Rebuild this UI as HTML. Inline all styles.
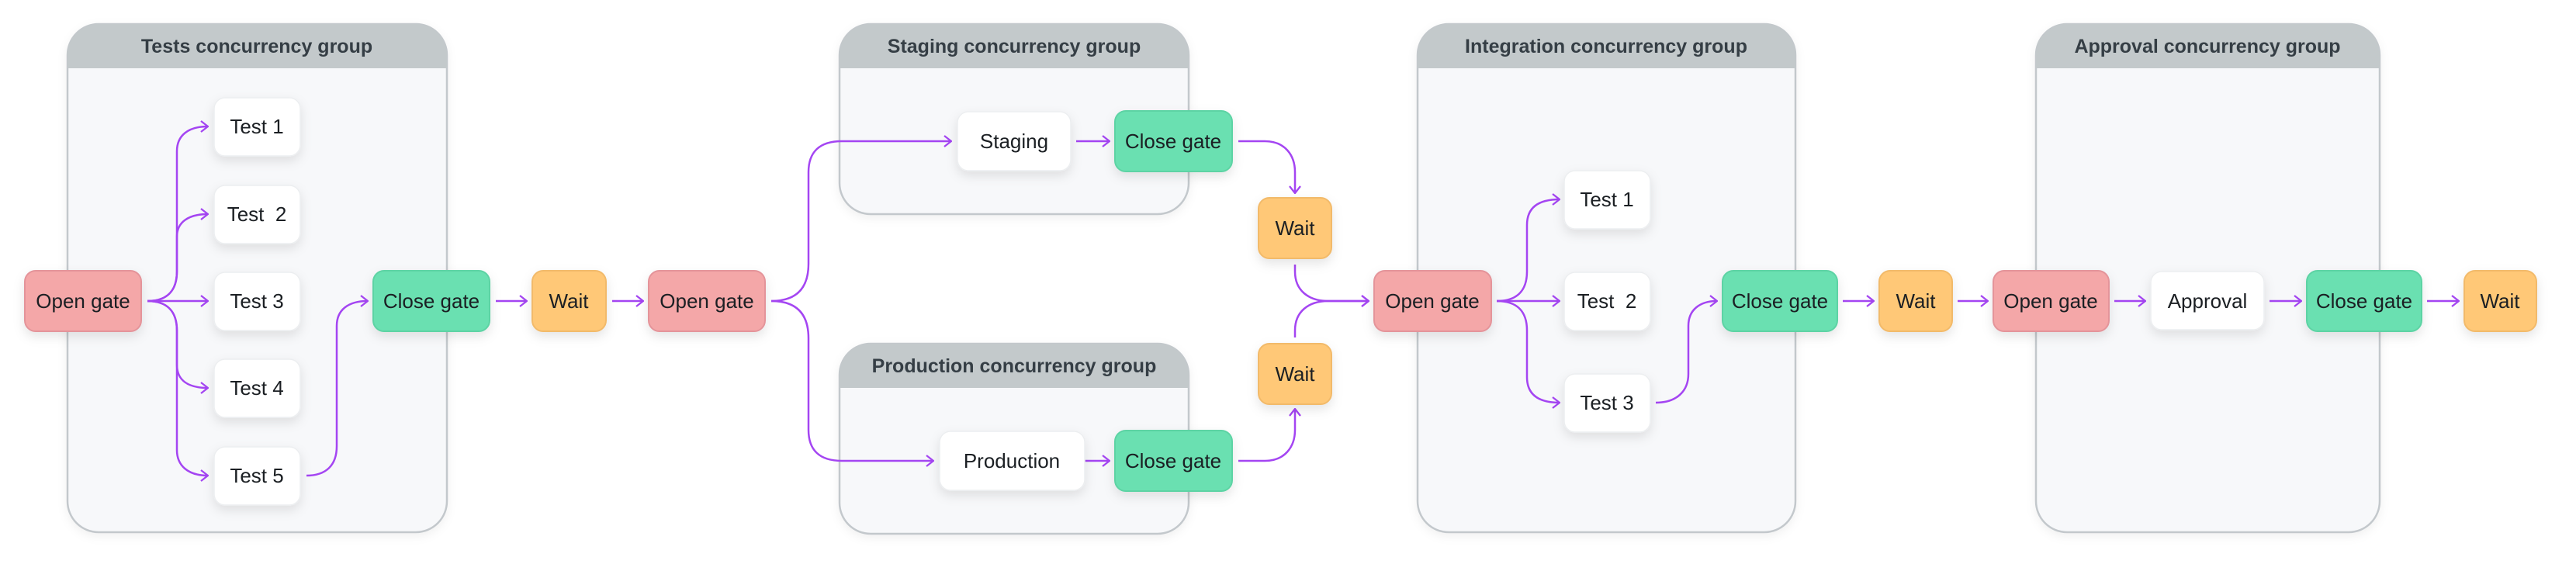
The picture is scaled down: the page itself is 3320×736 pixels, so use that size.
<!DOCTYPE html>
<html><head><meta charset="utf-8"><style>
html,body{margin:0;padding:0;background:#fff;}
svg{display:block;}
text{font-family:"Liberation Sans",sans-serif;}
.n{font-size:26px;fill:#1b1f23;text-anchor:middle;dominant-baseline:central;}
.h{font-size:25px;font-weight:bold;fill:#353e45;text-anchor:middle;dominant-baseline:central;}
.e{fill:none;stroke:#a445f2;stroke-width:2.5;marker-end:url(#ar);}
</style></head><body>
<svg width="3320" height="736" viewBox="0 0 3320 736" xmlns="http://www.w3.org/2000/svg">
<defs>
<marker id="ar" viewBox="0 0 12 16" refX="11" refY="8" markerWidth="12" markerHeight="16" markerUnits="userSpaceOnUse" orient="auto">
<path d="M2 1 L11 8 L2 15" fill="none" stroke="#a445f2" stroke-width="2.3"/>
</marker>
<filter id="sh" x="-30%" y="-30%" width="160%" height="180%"><feDropShadow dx="0" dy="6" stdDeviation="7" flood-color="#000" flood-opacity="0.10"/></filter>
<filter id="gs" x="-10%" y="-10%" width="120%" height="120%"><feDropShadow dx="0" dy="4" stdDeviation="6" flood-color="#000" flood-opacity="0.06"/></filter>
<clipPath id="c1"><rect x="87" y="31" width="489" height="655" rx="40"/></clipPath>
<clipPath id="c2"><rect x="1082" y="31" width="450" height="245" rx="40"/></clipPath>
<clipPath id="c3"><rect x="1082" y="443" width="450" height="245" rx="40"/></clipPath>
<clipPath id="c4"><rect x="1827" y="31" width="487" height="655" rx="40"/></clipPath>
<clipPath id="c5"><rect x="2624" y="31" width="443" height="655" rx="40"/></clipPath>
</defs>

<!-- groups -->
<g filter="url(#gs)">
<rect x="87" y="31" width="489" height="655" rx="40" fill="#f7f8fa" stroke="#c3c8cc" stroke-width="2.5"/>
<rect x="1082" y="31" width="450" height="245" rx="40" fill="#f7f8fa" stroke="#c3c8cc" stroke-width="2.5"/>
<rect x="1082" y="443" width="450" height="245" rx="40" fill="#f7f8fa" stroke="#c3c8cc" stroke-width="2.5"/>
<rect x="1827" y="31" width="487" height="655" rx="40" fill="#f7f8fa" stroke="#c3c8cc" stroke-width="2.5"/>
<rect x="2624" y="31" width="443" height="655" rx="40" fill="#f7f8fa" stroke="#c3c8cc" stroke-width="2.5"/>
</g>
<rect x="87" y="31" width="489" height="57" fill="#c3c9cb" clip-path="url(#c1)"/>
<rect x="1082" y="31" width="450" height="57" fill="#c3c9cb" clip-path="url(#c2)"/>
<rect x="1082" y="443" width="450" height="57" fill="#c3c9cb" clip-path="url(#c3)"/>
<rect x="1827" y="31" width="487" height="57" fill="#c3c9cb" clip-path="url(#c4)"/>
<rect x="2624" y="31" width="443" height="57" fill="#c3c9cb" clip-path="url(#c5)"/>
<text class="h" x="331" y="60">Tests concurrency group</text>
<text class="h" x="1307" y="60">Staging concurrency group</text>
<text class="h" x="1307" y="472">Production concurrency group</text>
<text class="h" x="2070" y="60">Integration concurrency group</text>
<text class="h" x="2845" y="60">Approval concurrency group</text>

<!-- edges -->
<path class="e" d="M190 388 C215 388 228 375 228 350 L228 195 C228 175 242 163 268 163"/>
<path class="e" d="M190 388 C215 388 228 375 228 350 L228 305 C228 287 242 276 268 276"/>
<path class="e" d="M190 388 H268"/>
<path class="e" d="M190 388 C215 388 228 401 228 426 L228 470 C228 490 242 500 268 500"/>
<path class="e" d="M190 388 C215 388 228 401 228 426 L228 580 C228 600 242 613 268 613"/>
<path class="e" d="M395 613 C420 613 434 600 434 575 L434 420 C434 400 448 388 474 388"/>
<path class="e" d="M639 388 H679"/>
<path class="e" d="M789 388 H829"/>
<path class="e" d="M994 388 C1028 388 1042 370 1042 340 L1042 222 C1042 196 1056 182 1085 182 H1226"/>
<path class="e" d="M994 388 C1028 388 1042 406 1042 436 L1042 554 C1042 580 1056 594 1085 594 H1203"/>
<path class="e" d="M1387 182 H1430"/>
<path class="e" d="M1387 594 H1430"/>
<path class="e" d="M1596 182 H1630 C1656 182 1669 200 1669 222 V249"/>
<path class="e" d="M1596 594 H1630 C1656 594 1669 576 1669 554 V527"/>
<path class="e" d="M1669 341 V350 C1669 374 1686 388 1712 388 H1764"/>
<path class="e" d="M1669 435 V426 C1669 402 1686 388 1712 388 H1764"/>
<path class="e" d="M1929 388 C1955 388 1968 375 1968 350 L1968 290 C1968 268 1982 257 2010 257"/>
<path class="e" d="M1929 388 H2010"/>
<path class="e" d="M1929 388 C1955 388 1968 401 1968 426 L1968 486 C1968 508 1982 519 2010 519"/>
<path class="e" d="M2134 519 C2160 519 2176 505 2176 482 L2176 420 C2176 400 2190 388 2213 388"/>
<path class="e" d="M2375 388 H2415"/>
<path class="e" d="M2523 388 H2562"/>
<path class="e" d="M2725 388 H2765"/>
<path class="e" d="M2925 388 H2966"/>
<path class="e" d="M3128 388 H3169"/>

<!-- nodes -->
<g filter="url(#sh)">
<rect x="32" y="349" width="150" height="78" rx="14" fill="#f4a7a8" stroke="#e4949a" stroke-width="2"/>
<rect x="276" y="126" width="111" height="75" rx="14" fill="#fff" stroke="#eceef0" stroke-width="1.5"/>
<rect x="276" y="239" width="111" height="75" rx="14" fill="#fff" stroke="#eceef0" stroke-width="1.5"/>
<rect x="276" y="351" width="111" height="75" rx="14" fill="#fff" stroke="#eceef0" stroke-width="1.5"/>
<rect x="276" y="463" width="111" height="75" rx="14" fill="#fff" stroke="#eceef0" stroke-width="1.5"/>
<rect x="276" y="576" width="111" height="75" rx="14" fill="#fff" stroke="#eceef0" stroke-width="1.5"/>
<rect x="481" y="349" width="150" height="78" rx="14" fill="#6ae0b1" stroke="#5dd3a4" stroke-width="2"/>
<rect x="686" y="349" width="95" height="78" rx="14" fill="#ffc877" stroke="#f2ba6a" stroke-width="2"/>
<rect x="836" y="349" width="150" height="78" rx="14" fill="#f4a7a8" stroke="#e4949a" stroke-width="2"/>
<rect x="1234" y="144" width="146" height="76" rx="14" fill="#fff" stroke="#eceef0" stroke-width="1.5"/>
<rect x="1437" y="143" width="151" height="78" rx="14" fill="#6ae0b1" stroke="#5dd3a4" stroke-width="2"/>
<rect x="1211" y="556" width="187" height="76" rx="14" fill="#fff" stroke="#eceef0" stroke-width="1.5"/>
<rect x="1437" y="555" width="151" height="78" rx="14" fill="#6ae0b1" stroke="#5dd3a4" stroke-width="2"/>
<rect x="1622" y="255" width="94" height="78" rx="14" fill="#ffc877" stroke="#f2ba6a" stroke-width="2"/>
<rect x="1622" y="443" width="94" height="78" rx="14" fill="#ffc877" stroke="#f2ba6a" stroke-width="2"/>
<rect x="1771" y="349" width="151" height="78" rx="14" fill="#f4a7a8" stroke="#e4949a" stroke-width="2"/>
<rect x="2016" y="220" width="111" height="75" rx="14" fill="#fff" stroke="#eceef0" stroke-width="1.5"/>
<rect x="2016" y="351" width="111" height="75" rx="14" fill="#fff" stroke="#eceef0" stroke-width="1.5"/>
<rect x="2016" y="482" width="111" height="75" rx="14" fill="#fff" stroke="#eceef0" stroke-width="1.5"/>
<rect x="2220" y="349" width="148" height="78" rx="14" fill="#6ae0b1" stroke="#5dd3a4" stroke-width="2"/>
<rect x="2422" y="349" width="94" height="78" rx="14" fill="#ffc877" stroke="#f2ba6a" stroke-width="2"/>
<rect x="2569" y="349" width="149" height="78" rx="14" fill="#f4a7a8" stroke="#e4949a" stroke-width="2"/>
<rect x="2772" y="350" width="146" height="75" rx="14" fill="#fff" stroke="#eceef0" stroke-width="1.5"/>
<rect x="2973" y="349" width="148" height="78" rx="14" fill="#6ae0b1" stroke="#5dd3a4" stroke-width="2"/>
<rect x="3176" y="349" width="93" height="78" rx="14" fill="#ffc877" stroke="#f2ba6a" stroke-width="2"/>
</g>

<text class="n" x="107" y="388">Open gate</text>
<text class="n" x="331" y="163">Test 1</text>
<text class="n" x="331" y="276" xml:space="preserve">Test  2</text>
<text class="n" x="331" y="388">Test 3</text>
<text class="n" x="331" y="500">Test 4</text>
<text class="n" x="331" y="613">Test 5</text>
<text class="n" x="556" y="388">Close gate</text>
<text class="n" x="733" y="388">Wait</text>
<text class="n" x="911" y="388">Open gate</text>
<text class="n" x="1307" y="182">Staging</text>
<text class="n" x="1512" y="182">Close gate</text>
<text class="n" x="1304" y="594">Production</text>
<text class="n" x="1512" y="594">Close gate</text>
<text class="n" x="1669" y="294">Wait</text>
<text class="n" x="1669" y="482">Wait</text>
<text class="n" x="1846" y="388">Open gate</text>
<text class="n" x="2071" y="257">Test 1</text>
<text class="n" x="2071" y="388" xml:space="preserve">Test  2</text>
<text class="n" x="2071" y="519">Test 3</text>
<text class="n" x="2294" y="388">Close gate</text>
<text class="n" x="2469" y="388">Wait</text>
<text class="n" x="2643" y="388">Open gate</text>
<text class="n" x="2845" y="388">Approval</text>
<text class="n" x="3047" y="388">Close gate</text>
<text class="n" x="3222" y="388">Wait</text>
</svg>
</body></html>
